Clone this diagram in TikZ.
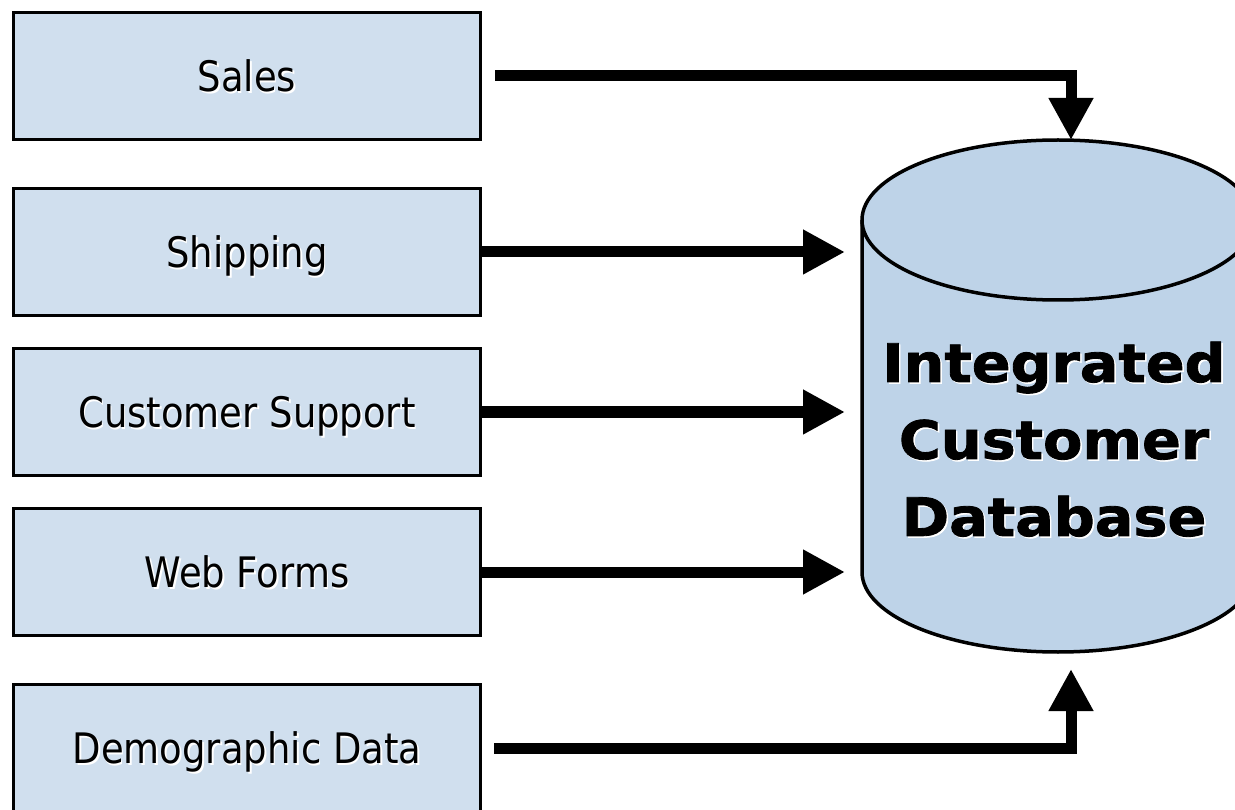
\documentclass[tikz,border=0pt]{standalone}
\usepackage{fontspec}
\usetikzlibrary{arrows.meta}
\newfontfamily\boxfont[FakeStretch=0.88]{DejaVu Sans}
\newfontfamily\dbfont[FakeStretch=1.08, BoldFeatures={FakeBold=1.6}]{DejaVu Sans}
\definecolor{boxfill}{HTML}{D0DFEE}
\definecolor{dbfill}{HTML}{BED3E8}
% text with a light drop shadow
\newcommand{\shadowed}[1]{\makebox[0pt][l]{\hspace{1.6pt}\raisebox{-1.6pt}{\color{white}#1}}#1}
\begin{document}
\begin{tikzpicture}[x=1pt,y=-1pt,
  source/.style={draw=black, line width=3pt, fill=boxfill, minimum width=467pt,
    minimum height=127pt, inner sep=0pt, font=\boxfont\fontsize{42}{50}\selectfont,
    text height=31pt, text depth=0pt},
  flow/.style={line width=11pt, line cap=butt, line join=miter,
    -{Triangle[length=42pt,width=42pt]}},
  dbline/.style={draw=black, line width=3.5pt}]
\useasboundingbox (0,0) rectangle (1235,810);
\clip (0,0) rectangle (1235,810);

% source systems
\node[source] (sales) at (247,76)  {\shadowed{Sales}};
\node[source] (ship)  at (247,252) {\shadowed{Shipping}};
\node[source] (supp)  at (247,412) {\shadowed{Customer Support}};
\node[source] (web)   at (247,572) {\shadowed{Web Forms}};
\node[source] (demo)  at (247,748) {\shadowed{Demographic Data}};

% database cylinder
\fill[dbfill] (862,220) -- (862,572)
  arc[start angle=180, end angle=0, x radius=196, y radius=80] -- (1254,220) -- cycle;
\draw[dbline] (862,220) -- (862,572)
  arc[start angle=180, end angle=0, x radius=196, y radius=80] -- (1254,220);
\draw[dbline, fill=dbfill] (1058,220) ellipse [x radius=196, y radius=80];
\node[align=center, font=\dbfont\bfseries\fontsize{53}{77}\selectfont] (db) at (1054,440)
  {\shadowed{Integrated}\\ \shadowed{Customer}\\ \shadowed{Database}};

% arrow targets on the cylinder
\coordinate (dbtop) at (1071,140);
\coordinate (dbside) at (845,400);
\coordinate (dbbot) at (1071,669);

% data flows
\draw[flow] ([xshift=13pt]sales.east) -| (dbtop);
\draw[flow] (ship.east) -- (ship.east -| dbside);
\draw[flow] (supp.east) -- (supp.east -| dbside);
\draw[flow] (web.east) -- (web.east -| dbside);
\draw[flow] ([xshift=12pt]demo.east) -| (dbbot);
\end{tikzpicture}
\end{document}
